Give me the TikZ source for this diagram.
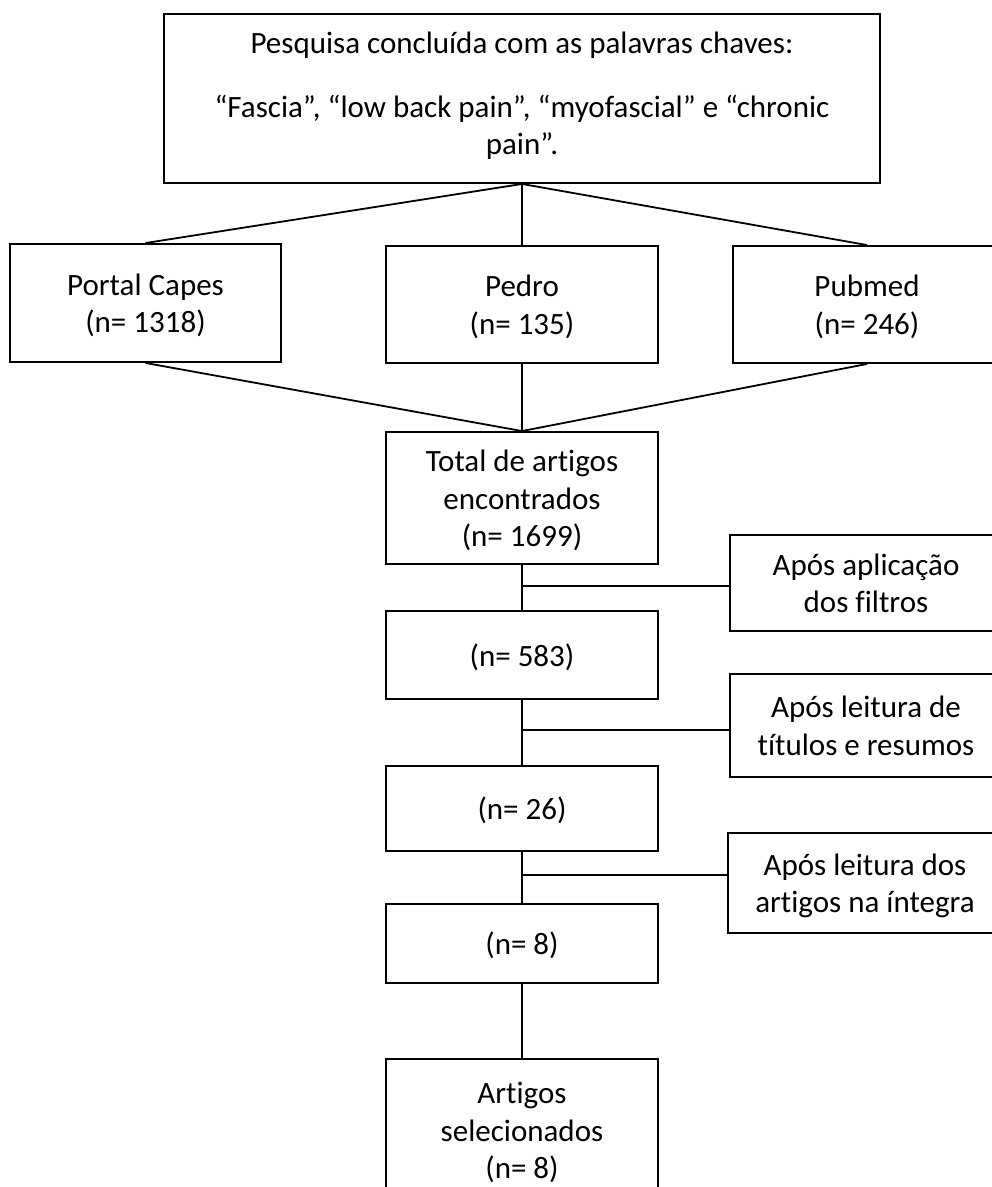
\documentclass[tikz,border=0pt]{standalone}
\usepackage{fontspec}
\setmainfont{Carlito}[Ligatures=NoCommon]
% struts fixing the vertical placement of the text block inside each box
\newcommand\tstr{\rule{0pt}{32pt}}
\newcommand\bstr{\rule[-10pt]{0pt}{10pt}}
\newcommand\bstrtop{\rule[-21pt]{0pt}{21pt}}
\begin{document}
\begin{tikzpicture}[x=1pt,y=-1pt,
  box/.style={draw=black,line width=1.9pt,inner sep=0pt,align=center,
    font=\fontsize{31}{37.8}\selectfont},
  sidebox/.style={box},
  conn/.style={draw=black,line width=1.8pt}]
\useasboundingbox (0,0) rectangle (992,1187);
\clip (0,0) rectangle (992,1187);
% main column
\node[box,minimum width=716pt,minimum height=169pt] (top) at (522,98.5)
  {\tstr Pesquisa concluída com as palavras chaves:\\[26pt]
   “Fascia”, “low back pain”, “myofascial” e “chronic\\ pain”.\bstrtop};
\node[box,minimum width=271pt,minimum height=118pt] (portal) at (145.5,303)
  {\tstr Portal Capes\\(n= 1318)\bstr};
\node[box,minimum width=272pt,minimum height=117pt] (pedro) at (522,304.5)
  {\tstr Pedro\\(n= 135)\bstr};
\node[box,minimum width=268pt,minimum height=117pt] (pubmed) at (867,304.5)
  {\tstr Pubmed\\(n= 246)\bstr};
\node[box,minimum width=272pt,minimum height=132pt] (total) at (522,498)
  {\tstr Total de artigos\\encontrados\\(n= 1699)\bstr};
\node[box,minimum width=272pt,minimum height=88pt] (n583) at (522,655)
  {\tstr (n= 583)\bstr};
\node[box,minimum width=272pt,minimum height=85pt] (n26) at (522,808.5)
  {\tstr (n= 26)\bstr};
\node[box,minimum width=272pt,minimum height=79pt] (n8) at (522,943.5)
  {\tstr (n= 8)\bstr};
\node[box,minimum width=272pt,minimum height=142pt] (final) at (522,1130)
  {\tstr Artigos\\selecionados\\(n= 8)\bstr};
% side boxes
\node[sidebox,minimum width=272pt,minimum height=96pt] (aplic) at (866,583)
  {\tstr Após aplicação\\dos filtros\bstr};
\node[sidebox,minimum width=272pt,minimum height=103pt] (titulos) at (866,725.5)
  {\tstr Após leitura de\\títulos e resumos\bstr};
\node[sidebox,minimum width=274pt,minimum height=100pt] (integra) at (865,883)
  {\tstr Após leitura dos\\artigos na íntegra\bstr};
% branch points
\coordinate (b1) at (522,586);
\coordinate (b2) at (522,730);
\coordinate (b3) at (522,875);
% connectors
\draw[conn] (top.south) -- (portal.north);
\draw[conn] (top.south) -- (pedro.north);
\draw[conn] (top.south) -- (pubmed.north);
\draw[conn] (portal.south) -- (total.north);
\draw[conn] (pedro.south) -- (total.north);
\draw[conn] (pubmed.south) -- (total.north);
\draw[conn] (total.south) -- (n583.north);
\draw[conn] (b1) -- (b1 -| aplic.west);
\draw[conn] (n583.south) -- (n26.north);
\draw[conn] (b2) -- (b2 -| titulos.west);
\draw[conn] (n26.south) -- (n8.north);
\draw[conn] (b3) -- (b3 -| integra.west);
\draw[conn] (n8.south) -- (final.north);
\end{tikzpicture}
\end{document}
